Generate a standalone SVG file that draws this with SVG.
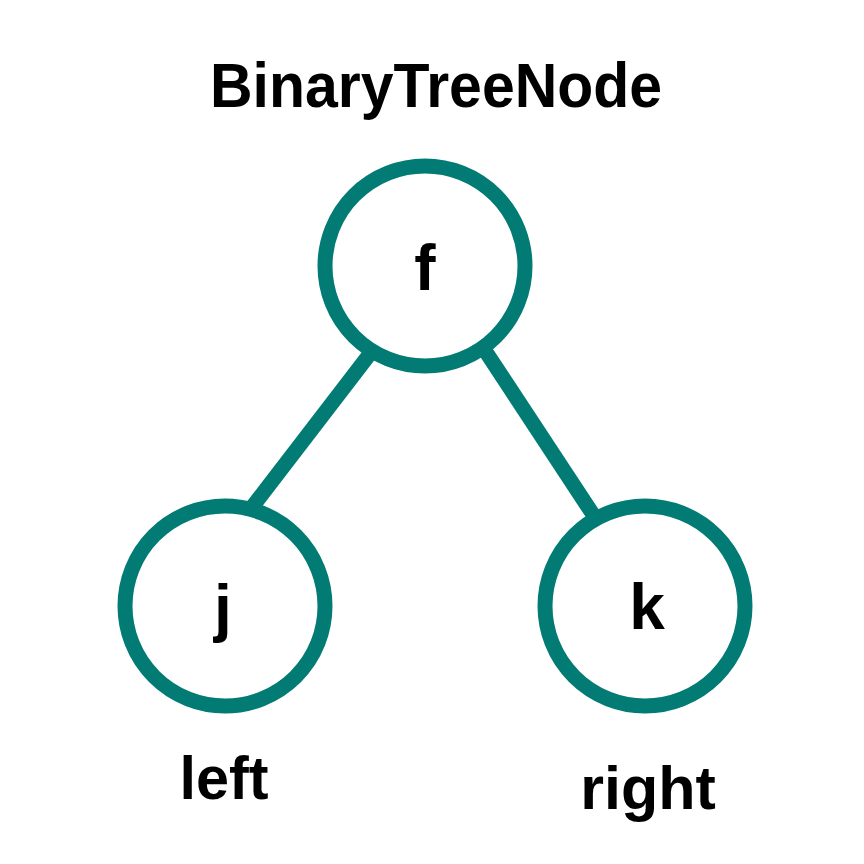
<svg xmlns="http://www.w3.org/2000/svg" width="864" height="864" viewBox="0 0 864 864">
<style>
.node{fill:#fff;stroke:#017B73;stroke-width:15}
.edge{stroke:#017B73;stroke-width:15;fill:none}
text{font-family:"Liberation Sans",Arial,Helvetica,sans-serif;font-weight:bold;fill:#000;text-anchor:middle}
.lbl{font-size:64px}
.cap{font-size:61px}
.title{font-size:63px}
</style>
<rect width="864" height="864" fill="#fff"/>
<text class="title" x="436" y="107" textLength="452" lengthAdjust="spacingAndGlyphs">BinaryTreeNode</text>
<g id="connectors">
<line class="edge" x1="369" y1="355" x2="253" y2="506"/>
<line class="edge" x1="486" y1="352" x2="594" y2="516"/>
</g>
<g id="node-f">
<circle class="node" cx="425" cy="266" r="100"/>
<text class="lbl" x="425" y="290">f</text>
</g>
<g id="node-j">
<circle class="node" cx="225" cy="606" r="100"/>
<text class="lbl" x="223" y="630">j</text>
</g>
<g id="node-k">
<circle class="node" cx="645" cy="606" r="100"/>
<text class="lbl" x="647" y="629">k</text>
</g>
<text class="cap" x="224" y="799" textLength="89" lengthAdjust="spacingAndGlyphs">left</text>
<text class="cap" x="648" y="809">right</text>
</svg>
